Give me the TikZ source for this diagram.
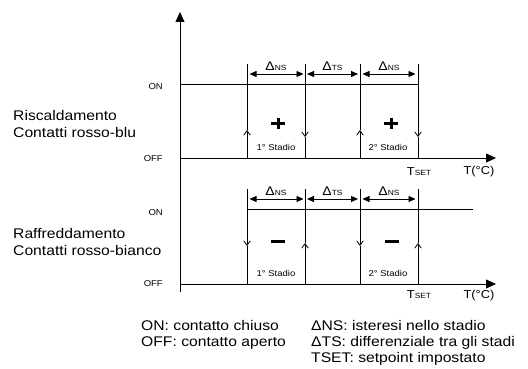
\documentclass[tikz,border=0pt]{standalone}
\usepackage{fontspec}
\setmainfont{Liberation Sans}[FakeStretch=1.12]
\usetikzlibrary{arrows.meta}
\tikzset{
  axis/.style={line width=0.8pt,-{Triangle[length=10pt,width=9pt]}},
  trace/.style={line width=0.8pt},
  flip/.style={line width=0.8pt,-{Straight Barb[length=4.5pt,width=6.5pt]}},
  span/.style={line width=0.8pt,{Triangle[length=7pt,width=6pt]}-{Triangle[length=7pt,width=6pt]}},
  sign/.style={line width=3pt},
  lbl/.style={font=\fontsize{14}{16}\selectfont,anchor=base west,inner sep=0pt},
  small/.style={font=\fontsize{8.5}{10}\selectfont,inner sep=0pt},
}
\newcommand{\dlt}[1]{{\fontsize{12.5}{14}\selectfont Δ}{\fontsize{7.5}{9}\selectfont #1}}
\newcommand{\tset}{{\fontsize{11.5}{13}\selectfont T}{\fontsize{7.5}{9}\selectfont SET}}
\begin{document}
\begin{tikzpicture}[x=1pt,y=-1pt,line join=round]
    \useasboundingbox (0,0) rectangle (528,369);
    \draw[axis] (180,292) -- (180,12);

    % riscaldamento
    \begin{scope}[shift={(0,0)}]
      \draw[axis] (180,158) -- (496,158);
      \draw[trace] (180,84) -- (418,84);
      \draw[flip] (247,158) -- (247,130);
      \draw[trace] (247,130) -- (247,64);
      \draw[flip] (305,64) -- (305,137);
      \draw[trace] (305,137) -- (305,158);
      \draw[flip] (360,158) -- (360,130);
      \draw[trace] (360,130) -- (360,64);
      \draw[flip] (418,64) -- (418,137);
      \draw[trace] (418,137) -- (418,158);
      \draw[span] (249.5,74) -- (303.5,74);
      \draw[span] (307,74) -- (358,74);
      \draw[span] (362.5,74) -- (415.5,74);
      \node (hns1) at (276,66) {\dlt{NS}};
      \node (hts) at (332.5,66) {\dlt{TS}};
      \node (hns2) at (389,66) {\dlt{NS}};
      \draw[sign] (271,123.5) -- (285,123.5) (278,118) -- (278,129);
      \draw[sign] (384,123.5) -- (398,123.5) (391,118) -- (391,129);
      \node[small] (hst1) at (276,147) {1° Stadio};
      \node[small] (hst2) at (388,147) {2° Stadio};
      \node[small,anchor=east] (hon) at (163,87) {ON};
      \node[small,anchor=east] (hoff) at (163,159) {OFF};
      \node (hset) at (419,172) {\tset};
      \node[font=\fontsize{11.5}{13}\selectfont] (htemp) at (479,172) {T(°C)};
      \node[lbl] (hname) at (13,121) {Riscaldamento};
      \node[lbl] (hcont) at (13,137) {Contatti rosso-blu};
    \end{scope}

    % raffreddamento
    \begin{scope}[shift={(0,125)}]
      \draw[axis] (180,159) -- (496,159);
      \draw[trace] (247,84) -- (473,84);
      \draw[flip] (247,64) -- (247,121);
      \draw[trace] (247,121) -- (247,159);
      \draw[flip] (305,159) -- (305,118);
      \draw[trace] (305,118) -- (305,64);
      \draw[flip] (360,64) -- (360,121);
      \draw[trace] (360,121) -- (360,159);
      \draw[flip] (418,159) -- (418,118);
      \draw[trace] (418,118) -- (418,64);
      \draw[span] (249.5,74) -- (303.5,74);
      \draw[span] (307,74) -- (358,74);
      \draw[span] (362.5,74) -- (415.5,74);
      \node (cns1) at (276,66) {\dlt{NS}};
      \node (cts) at (332.5,66) {\dlt{TS}};
      \node (cns2) at (389,66) {\dlt{NS}};
      \draw[sign] (271,116.5) -- (285,116.5);
      \draw[sign] (385,116.5) -- (399,116.5);
      \node[small] (cst1) at (276,148) {1° Stadio};
      \node[small] (cst2) at (388,148) {2° Stadio};
      \node[small,anchor=east] (con) at (163,88) {ON};
      \node[small,anchor=east] (coff) at (163,159) {OFF};
      \node (cset) at (419,170) {\tset};
      \node[font=\fontsize{11.5}{13}\selectfont] (ctemp) at (479,171) {T(°C)};
      \node[lbl] (cname) at (13,113) {Raffreddamento};
      \node[lbl] (ccont) at (13,130) {Contatti rosso-bianco};
    \end{scope}

    % legenda
    \node[lbl] (lon) at (141,330) {ON: contatto chiuso};
    \node[lbl] (loff) at (141,346) {OFF: contatto aperto};
    \node[lbl] (lns) at (311,330) {ΔNS: isteresi nello stadio};
    \node[lbl] (lts) at (311,346) {ΔTS: differenziale tra gli stadi};
    \node[lbl] (lset) at (311,362) {TSET: setpoint impostato};
  \end{tikzpicture}
\end{document}
